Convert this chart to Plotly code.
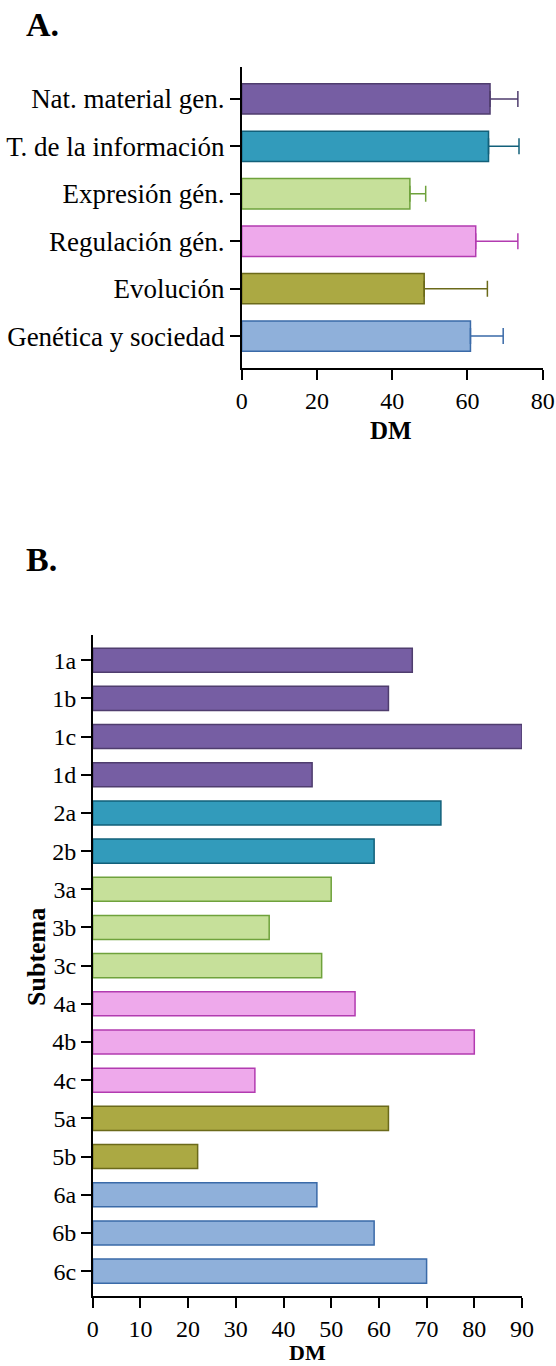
import plotly.graph_objects as go

# ---- Panel A: topic means with error bars ----
topics = ["Nat. material gen.", "T. de la información", "Expresión gén.",
          "Regulación gén.", "Evolución", "Genética y sociedad"]
topic_dm = [66.0, 65.6, 44.7, 62.2, 48.5, 60.8]
topic_err = [7.4, 8.1, 4.2, 11.2, 16.8, 8.7]

# ---- Panel B: subtopics ----
subtopics = ["1a", "1b", "1c", "1d", "2a", "2b", "3a", "3b", "3c",
             "4a", "4b", "4c", "5a", "5b", "6a", "6b", "6c"]
subtopic_dm = [67, 62, 90, 46, 73, 59, 50, 37, 48, 55, 80, 34, 62, 22, 47, 59, 70]
subtopic_group = [0, 0, 0, 0, 1, 1, 2, 2, 2, 3, 3, 3, 4, 4, 5, 5, 5]

fills = ["#765ea3", "#329bbb", "#c6e09a", "#eea9eb", "#aba943", "#8fb0da"]
edges = ["#4f3d6e", "#12607a", "#6fa23c", "#b23bb0", "#6b6a1a", "#3a6aa8"]

W, H = 556, 1366
FONT = "Liberation Serif, Times New Roman, serif"


def px_x(x):
    return x / W


def px_y(y):
    return 1 - y / H


fig = go.Figure()

for i, t in enumerate(topics):
    fig.add_trace(go.Bar(
        x=[topic_dm[i]], y=[t], orientation="h",
        width=0.64,
        marker=dict(color=fills[i], line=dict(color=edges[i], width=1.5)),
        error_x=dict(type="data", array=[topic_err[i]], arrayminus=[0],
                     symmetric=False, color=edges[i], thickness=1.5, width=8),
        xaxis="x", yaxis="y", showlegend=False,
    ))

fig.add_trace(go.Bar(
    x=subtopic_dm, y=subtopics, orientation="h",
    width=0.63,
    marker=dict(color=[fills[g] for g in subtopic_group],
                line=dict(color=[edges[g] for g in subtopic_group], width=1.5)),
    xaxis="x2", yaxis="y2", showlegend=False,
))


def axis_style(size):
    return dict(showline=True, linecolor="black", linewidth=1.5,
                ticks="outside", tickcolor="black", tickwidth=1.5, ticklen=10,
                showgrid=False, zeroline=False, automargin=False,
                tickfont=dict(family=FONT, size=size, color="black"))


fig.update_layout(
    width=W, height=H,
    margin=dict(l=0, r=0, t=0, b=0, pad=0),
    paper_bgcolor="white", plot_bgcolor="white",
    barmode="overlay", showlegend=False,
    xaxis=dict(domain=[px_x(241.7), px_x(542.7)], range=[0, 80],
               tickvals=[0, 20, 40, 60, 80], anchor="y", **axis_style(24)),
    yaxis=dict(domain=[px_y(368.3), px_y(66.7)], type="category",
               categoryorder="array", categoryarray=topics,
               range=[len(topics) - 1 + 0.68, -0.68], anchor="x",
               **axis_style(27)),
    xaxis2=dict(domain=[px_x(92.7), px_x(522)], range=[0, 90],
                tickvals=list(range(0, 91, 10)), anchor="y2", **axis_style(24)),
    yaxis2=dict(domain=[px_y(1296.3), px_y(635)], type="category",
                categoryorder="array", categoryarray=subtopics,
                range=[len(subtopics) - 1 + 0.66, -0.66], anchor="x2",
                **axis_style(24)),
)

ann_font = dict(family=FONT, color="black")
annotations = [
    dict(text="<b>A.</b>", x=px_x(24), y=px_y(25), xanchor="left", yanchor="middle",
         font=dict(size=34, **ann_font)),
    dict(text="<b>B.</b>", x=px_x(24), y=px_y(559), xanchor="left", yanchor="middle",
         font=dict(size=34, **ann_font)),
    dict(text="<b>DM</b>", x=px_x(391), y=px_y(430), xanchor="center", yanchor="middle",
         font=dict(size=25, **ann_font)),
    dict(text="<b>DM</b>", x=px_x(307), y=0, xanchor="center", yanchor="bottom",
         borderpad=0, font=dict(size=22, **ann_font)),
    dict(text="<b>Subtema</b>", x=px_x(36), y=px_y(957), xanchor="center", yanchor="middle",
         textangle=-90, font=dict(size=26, **ann_font)),
]
for a in annotations:
    a.update(xref="paper", yref="paper", showarrow=False)
fig.update_layout(annotations=annotations)

fig.write_html("out.html")
